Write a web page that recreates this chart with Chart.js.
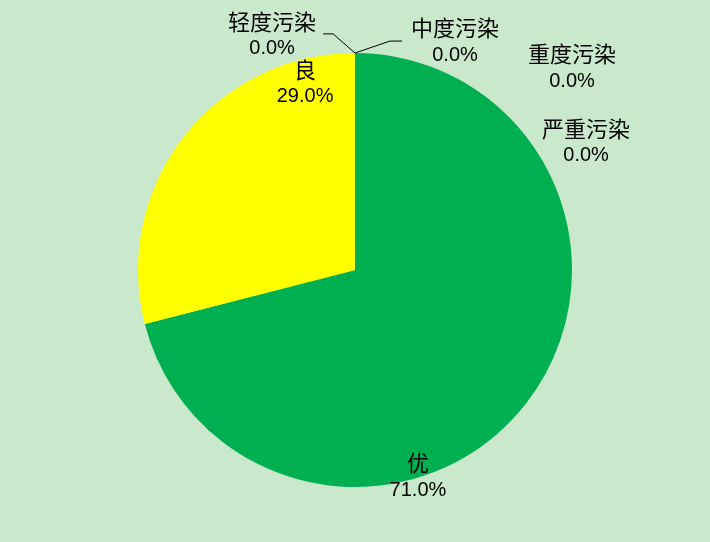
<!DOCTYPE html>
<html><head><meta charset="utf-8">
<script src="https://cdn.jsdelivr.net/npm/chart.js@4/dist/chart.umd.min.js"></script>
<style>html,body{margin:0;padding:0;background:#C9E8CC;}#wrap{width:710px;height:542px;}</style>
</head><body><div id="wrap"><canvas id="c" width="710" height="542"></canvas></div>
<script>
const categories = ['优','良','轻度污染','中度污染','重度污染','严重污染'];
const values = [71.0, 29.0, 0.0, 0.0, 0.0, 0.0];
const sliceColors = ['#00B050','#FFFF00','#A5A5A5','#FFC000','#5B9BD5','#70AD47'];
// label anchor (fraction of radius from centre) for each category
const labelPos = [[0.290,0.890],[-0.230,-0.922],[-0.382,-1.143],[0.461,-1.115],[1.0,-0.995],[1.065,-0.650]];
// leader lines (from pie top) for small slices: index -> [[x,y],[x,y]] in radius fractions
const leaders = {2:[[-0.101,-1.088],[-0.147,-1.088]],3:[[0.161,-1.055],[0.217,-1.055]]};

const labelPlugin = {
  id:'labels',
  afterDatasetsDraw(chart){
    const ctx = chart.ctx;
    const arc = chart.getDatasetMeta(0).data[0];
    const cx = arc.x, cy = arc.y, r = arc.outerRadius;
    const total = values.reduce((a,b)=>a+b,0);
    ctx.save();
    ctx.strokeStyle = '#000';
    ctx.lineWidth = 1;
    Object.keys(leaders).forEach(k=>{
      const pts = leaders[k];
      ctx.beginPath();
      ctx.moveTo(cx, cy - r);
      pts.forEach(p=>ctx.lineTo(cx + p[0]*r, cy + p[1]*r));
      ctx.stroke();
    });
    ctx.fillStyle = '#000';
    ctx.textAlign = 'center';
    ctx.textBaseline = 'middle';
    categories.forEach((name,i)=>{
      const x = cx + labelPos[i][0]*r, y = cy + labelPos[i][1]*r;
      ctx.font = '22px "Noto Sans CJK SC"';
      ctx.fillText(name, x, y);
      ctx.font = '20px "Liberation Sans"';
      ctx.fillText((values[i]/total*100).toFixed(1)+'%', x, y+27);
    });
    ctx.restore();
  }
};

new Chart(document.getElementById('c'), {
  type:'pie',
  data:{labels:categories, datasets:[{data:values, backgroundColor:sliceColors, borderWidth:0}]},
  options:{
    responsive:false, animation:false,
    layout:{padding:{top:53,bottom:55,left:0,right:0}},
    plugins:{legend:{display:false}, tooltip:{enabled:false}}
  },
  plugins:[labelPlugin]
});
</script></body></html>
